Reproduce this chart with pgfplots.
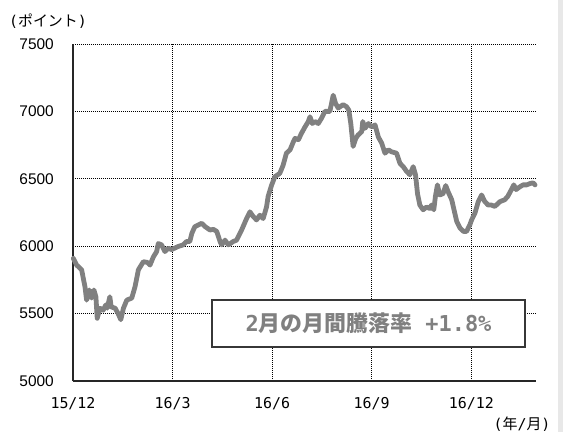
\documentclass[border=0pt]{standalone}
\usepackage{pgfplots}
\pgfplotsset{compat=1.18}
\usepackage{pgfplotstable}
\usepackage{fontspec}
\setmainfont{Liberation Sans}
\newfontfamily\cjk{Noto Sans CJK JP}
\newfontfamily\mono{DejaVu Sans Mono}
\definecolor{linegray}{RGB}{128,128,128}
\definecolor{boxedge}{RGB}{55,55,55}
\definecolor{strip}{RGB}{232,232,232}
\pgfplotstableread{
m v
0.01 5910
0.11 5860
0.26 5825
0.36 5700
0.41 5600
0.49 5675
0.56 5615
0.63 5675
0.69 5625
0.73 5465
0.81 5540
0.91 5525
0.99 5565
1.03 5540
1.11 5625
1.15 5550
1.27 5540
1.36 5500
1.44 5455
1.52 5540
1.62 5600
1.77 5615
1.87 5700
1.97 5825
2.12 5885
2.24 5880
2.32 5860
2.42 5920
2.52 5960
2.57 6020
2.67 6010
2.77 5960
2.87 5985
2.97 5975
3.17 5998
3.32 6010
3.42 6035
3.52 6035
3.58 6095
3.67 6145
3.88 6170
3.98 6145
4.13 6120
4.23 6125
4.33 6110
4.43 6035
4.48 6010
4.58 6045
4.68 6010
4.83 6035
4.93 6045
5.08 6120
5.23 6205
5.33 6255
5.43 6220
5.53 6195
5.63 6230
5.73 6205
5.83 6290
5.88 6370
5.98 6450
6.08 6515
6.23 6540
6.33 6600
6.43 6690
6.54 6715
6.64 6775
6.69 6800
6.79 6790
6.89 6840
6.99 6885
7.09 6925
7.14 6960
7.21 6910
7.29 6925
7.39 6910
7.49 6950
7.59 7000
7.74 7000
7.79 7060
7.84 7120
7.91 7060
7.99 7025
8.14 7050
8.24 7035
8.31 7010
8.37 6910
8.44 6740
8.52 6800
8.59 6825
8.70 6850
8.73 6925
8.80 6875
8.90 6910
9.00 6885
9.10 6900
9.20 6810
9.30 6765
9.40 6690
9.50 6715
9.60 6700
9.75 6690
9.85 6615
9.95 6590
10.05 6555
10.15 6530
10.25 6590
10.32 6530
10.38 6390
10.45 6305
10.55 6270
10.65 6290
10.75 6280
10.80 6305
10.87 6270
10.92 6370
10.98 6455
11.05 6380
11.15 6390
11.23 6450
11.30 6405
11.41 6345
11.48 6270
11.56 6185
11.66 6135
11.76 6110
11.86 6110
11.96 6160
12.01 6195
12.11 6245
12.21 6330
12.31 6380
12.41 6330
12.51 6305
12.61 6305
12.71 6295
12.86 6330
13.01 6345
13.10 6370
13.21 6420
13.28 6455
13.35 6420
13.46 6440
13.56 6455
13.67 6455
13.77 6465
13.86 6470
13.92 6455
}\nikkei
\begin{document}
\begin{tikzpicture}
\path[use as bounding box] (-73bp,-51bp) rectangle (490bp,381bp);
\fill[strip] (485bp,-51bp) rectangle (490bp,381bp);
\begin{axis}[
  at={(0,0)}, anchor=south west,
  scale only axis, width=463bp, height=337bp,
  xmin=0, xmax=13.95, ymin=5000, ymax=7500,
  axis x line*=bottom, axis y line*=left,
  axis line style={black!85, line width=1.4bp, -},
  xtick={0,3,6,9,12},
  xticklabels={15/12,16/3,16/6,16/9,16/12},
  ytick={5000,5500,6000,6500,7000,7500},
  major tick length=0pt,
  grid=major,
  major grid style={black, line width=0.9bp, dash pattern=on 1bp off 1bp},
  /pgf/number format/assume math mode=true,
  /pgf/number format/1000 sep={},
  yticklabel style={font=\fontsize{15.5}{17}\selectfont, anchor=east, inner sep=0pt, xshift=-19bp},
  xticklabel style={font=\mono\fontsize{15}{17}\selectfont, anchor=north, inner sep=0pt, yshift=-16bp},
  clip=false,
]
\addplot[linegray, line width=4.8bp, line join=round, line cap=round] table[x=m, y=v] {\nikkei};
\end{axis}
\node[draw=boxedge, line width=2bp, fill=white, minimum width=313bp, minimum height=47bp, inner sep=0pt, text=linegray,
  font=\cjk\bfseries\fontsize{22}{25}\selectfont] at (295.5bp,57.5bp)
  {{\mono\bfseries 2}月の月間騰落率{\mono\bfseries\ +1.8\%}};
\node[font=\fontsize{15}{17}\selectfont, inner sep=0pt] at (-25bp,360bp) {{\mono(}{\cjk ポイント}{\mono)}};
\node[font=\fontsize{15}{17}\selectfont, inner sep=0pt] at (449bp,-43bp) {{\mono(}{\cjk 年}{\mono/}{\cjk 月}{\mono)}};
\end{tikzpicture}
\end{document}
